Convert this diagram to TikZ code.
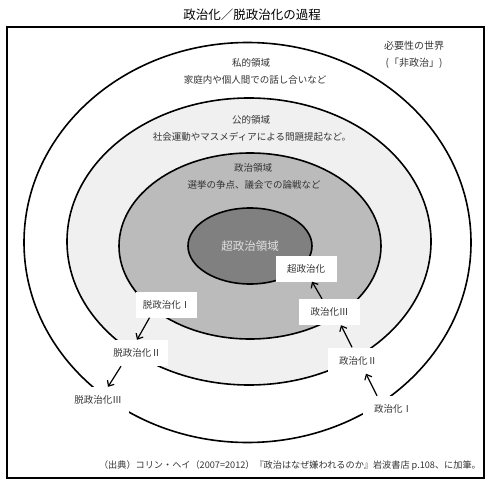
\documentclass[tikz,border=0pt]{standalone}
\usepackage{fontspec}
\setmainfont{Noto Sans CJK JP}
\usetikzlibrary{arrows.meta}
\definecolor{txt}{HTML}{333333}
\definecolor{pubgray}{HTML}{F0F0F0}
\definecolor{polgray}{HTML}{BBBBBB}
\definecolor{supgray}{HTML}{808080}
\tikzset{
  ell/.style={draw=black, line width=1.6pt},
  lbl/.style={font=\fontsize{9.5}{11}\selectfont, text=txt, inner sep=0pt},
  boxlbl/.style={fill=white, minimum width=61pt, minimum height=26pt, inner sep=0pt, font=\fontsize{9.5}{11}\selectfont, text=txt},
  arr/.style={line width=1.2pt, -{Straight Barb[length=4.5pt,width=8pt,line width=1.2pt]}}
}
\begin{document}
\begin{tikzpicture}[x=1pt,y=-1pt]
\useasboundingbox (0,0) rectangle (500,492);
% title
\node[font=\fontsize{12.5}{14}\selectfont, inner sep=0pt] (title) at (252,15) {政治化／脱政治化の過程};
% frame
\draw[line width=1.8pt] (7,27) rectangle (484,478);
% ellipses
\draw[ell, fill=white] (247.5,242.5) ellipse [x radius=223.5, y radius=200];
\draw[ell, fill=pubgray] (249,241.5) ellipse [x radius=182, y radius=143.5];
\draw[ell, fill=polgray] (250,246) ellipse [x radius=131, y radius=93];
\draw[ell, fill=supgray] (250,246) ellipse [x radius=62, y radius=38];
% outside world
\node[lbl, font=\fontsize{10}{12}\selectfont] (need) at (414,46) {必要性の世界};
\node[lbl, font=\fontsize{10}{12}\selectfont] (nonpol) at (414,63) {(「非政治」)};
% region labels
\node[lbl] (priv) at (251,63) {私的領域};
\node[lbl] (privd) at (255,80) {家庭内や個人間での話し合いなど};
\node[lbl] (pub) at (251,120) {公的領域};
\node[lbl] (pubd) at (252,137) {社会運動やマスメディアによる問題提起など。};
\node[lbl] (pol) at (253,168) {政治領域};
\node[lbl] (pold) at (254,185) {選挙の争点、議会での論戦など};
\node[lbl, text=white!88!black, font=\fontsize{11.5}{13}\selectfont] (sup) at (250,246) {超政治領域};
% process boxes
\node[boxlbl] (s) at (306,268.5) {超政治化};
\node[boxlbl] (p3) at (329.5,312) {政治化Ⅲ};
\node[boxlbl] (p2) at (358,360.5) {政治化Ⅱ};
\node[boxlbl] (p1) at (393,409) {政治化Ⅰ};
\node[boxlbl] (d1) at (166.5,304.5) {脱政治化Ⅰ};
\node[boxlbl] (d2) at (137,353) {脱政治化Ⅱ};
\node[boxlbl] (d3) at (98,400) {脱政治化Ⅲ};
% arrows
\draw[arr] ([xshift=-17pt]d1.south) -- (d2.north);
\draw[arr] ([xshift=-16pt]d2.south) -- ([xshift=10pt]d3.north);
\draw[arr] ([xshift=-16pt]p1.north) -- ([xshift=8pt]p2.south);
\draw[arr] ([xshift=-6pt]p2.north) -- ([xshift=11.5pt]p3.south);
\draw[arr] ([xshift=-7.5pt]p3.north) -- ([xshift=6pt]s.south);
% source
\node[lbl, font=\fontsize{9.15}{11}\selectfont, anchor=east] (src) at (481,466) {（出典）コリン・ヘイ（2007=2012）『政治はなぜ嫌われるのか』岩波書店 p.108、に加筆。};
\end{tikzpicture}
\end{document}
